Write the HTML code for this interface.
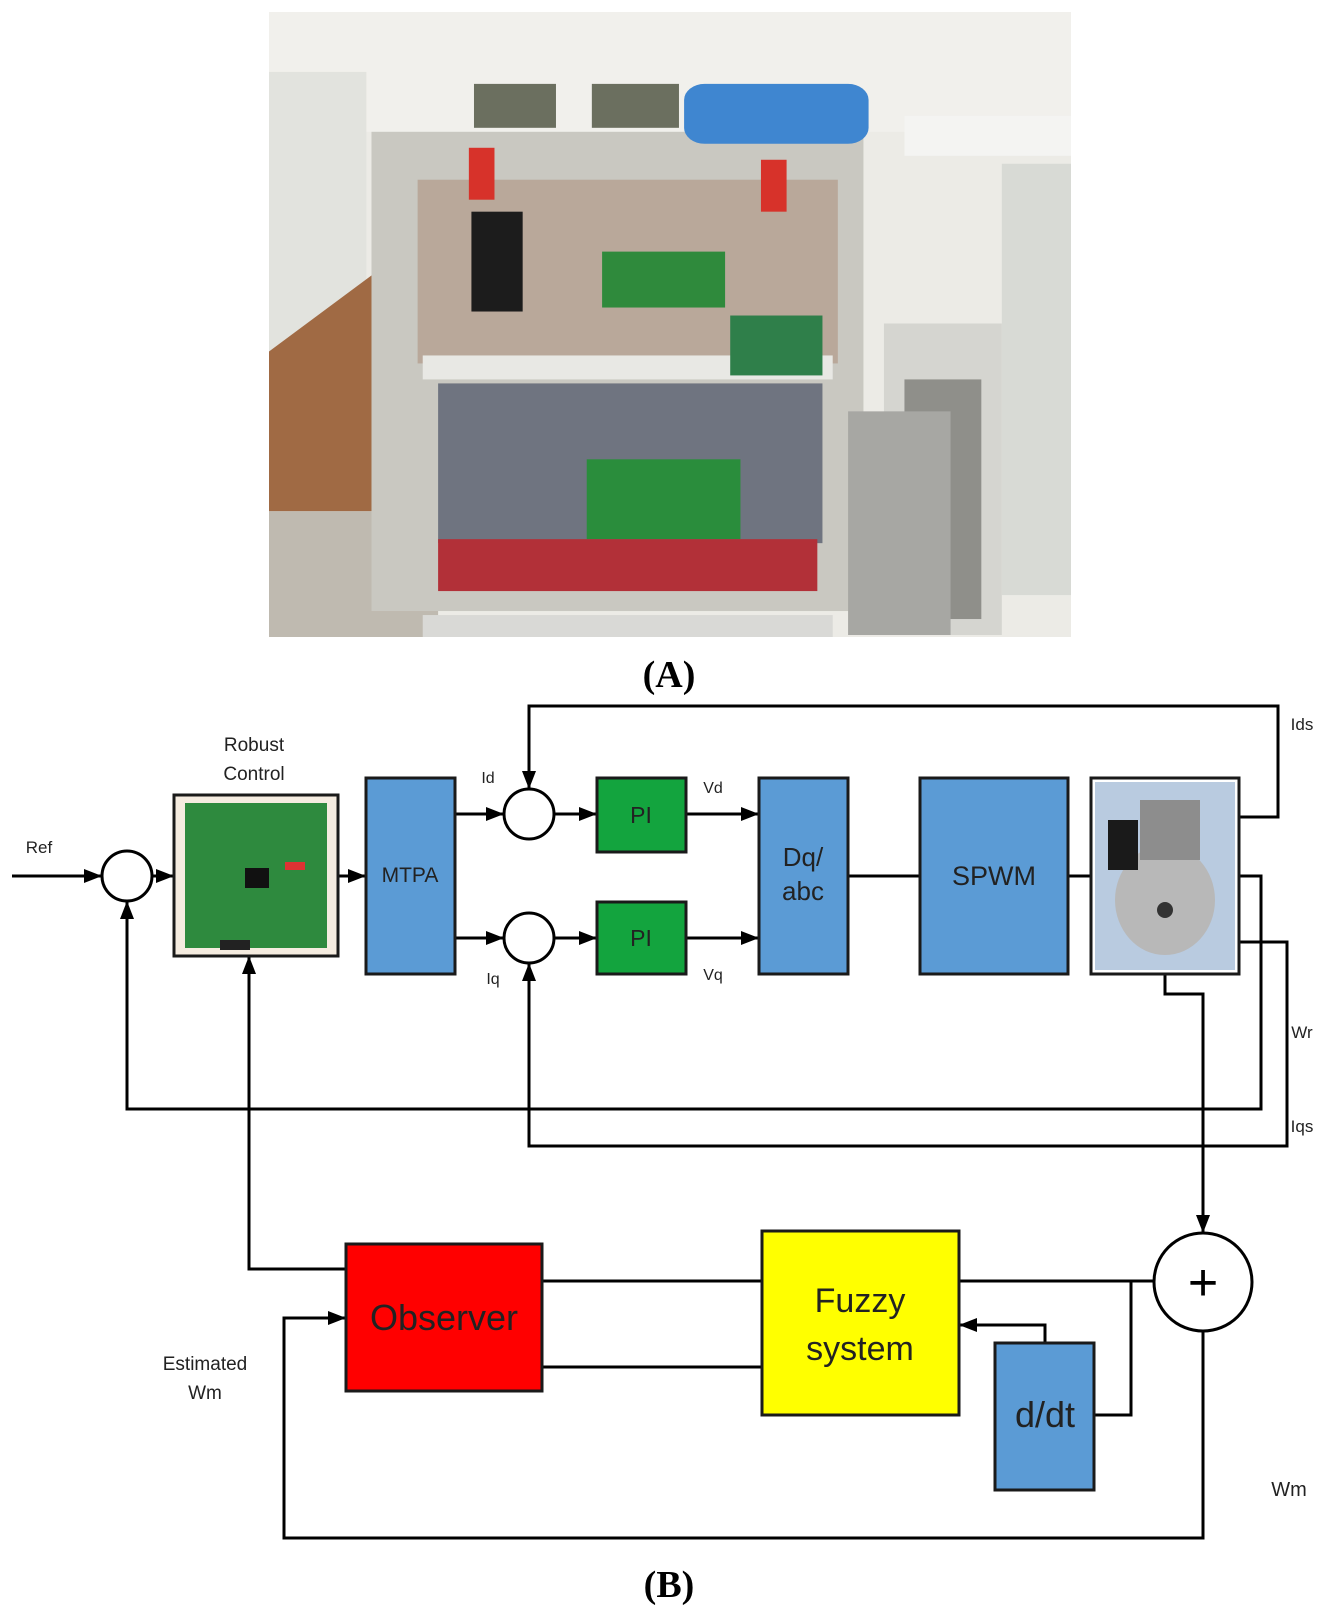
<!DOCTYPE html>
<html><head><meta charset="utf-8"><style>
html,body{margin:0;padding:0;background:#fff}
svg{display:block}
text{font-family:"Liberation Sans",sans-serif}
</style></head><body>
<svg width="1322" height="1618" viewBox="0 0 1322 1618" xmlns="http://www.w3.org/2000/svg">
<defs>
<marker id="ar" markerWidth="18" markerHeight="14" refX="17" refY="7" orient="auto" markerUnits="userSpaceOnUse">
<path d="M0,0 L18,7 L0,14 z" fill="#000"/></marker>
</defs>
<!-- Photo A -->
<svg x="269" y="12" width="802" height="625" viewBox="0 0 1565 1565" preserveAspectRatio="none">
<rect width="1565" height="1565" fill="#ecebe6"/>
<rect x="0" y="0" width="1565" height="300" fill="#f1f0ec"/>
<rect x="0" y="150" width="190" height="700" fill="#e2e3de"/>
<path d="M0,850 L210,650 L230,1250 L0,1250 z" fill="#a06a44"/>
<path d="M0,1250 L330,1250 L330,1565 L0,1565 z" fill="#bfbab0"/>
<rect x="1240" y="260" width="325" height="100" fill="#f4f4f2"/>
<rect x="1430" y="380" width="135" height="1080" fill="#d8dad5"/>
<rect x="1200" y="780" width="230" height="780" fill="#d5d5d0"/>
<rect x="1240" y="920" width="150" height="600" fill="#8f8f8a"/>
<rect x="200" y="300" width="960" height="1200" fill="#c9c8c1"/>
<rect x="290" y="420" width="820" height="460" fill="#b9a89a"/>
<rect x="395" y="500" width="100" height="250" fill="#1c1c1c"/>
<rect x="650" y="600" width="240" height="140" fill="#2f8a3c"/>
<rect x="300" y="860" width="800" height="60" fill="#e8e8e4"/>
<rect x="330" y="930" width="750" height="400" fill="#6f7480"/>
<rect x="620" y="1120" width="300" height="200" fill="#2a8d3c"/>
<rect x="900" y="760" width="180" height="150" fill="#2f7f4a"/>
<rect x="330" y="1320" width="740" height="130" fill="#b23038"/>
<rect x="810" y="180" width="360" height="150" rx="40" fill="#3f86d0"/>
<rect x="400" y="180" width="160" height="110" fill="#6b6f5f"/>
<rect x="630" y="180" width="170" height="110" fill="#6b6f5f"/>
<rect x="390" y="340" width="50" height="130" fill="#d7322a"/>
<rect x="960" y="370" width="50" height="130" fill="#d7322a"/>
<rect x="1130" y="1000" width="200" height="560" fill="#a7a7a3"/>
<rect x="300" y="1510" width="800" height="55" fill="#d9d9d6"/>
</svg>
<text x="669" y="687" font-weight="bold" font-size="38" text-anchor="middle" style="font-family:'Liberation Serif',serif">(A)</text>

<g stroke="#000" stroke-width="3" fill="none">
<line x1="12" y1="876" x2="101" y2="876" marker-end="url(#ar)"/>
<line x1="152" y1="876" x2="173" y2="876" marker-end="url(#ar)"/>
<line x1="338" y1="876" x2="365" y2="876" marker-end="url(#ar)"/>
<line x1="455" y1="814" x2="503" y2="814" marker-end="url(#ar)"/>
<line x1="455" y1="938" x2="503" y2="938" marker-end="url(#ar)"/>
<line x1="554" y1="814" x2="596" y2="814" marker-end="url(#ar)"/>
<line x1="554" y1="938" x2="596" y2="938" marker-end="url(#ar)"/>
<line x1="686" y1="814" x2="758" y2="814" marker-end="url(#ar)"/>
<line x1="686" y1="938" x2="758" y2="938" marker-end="url(#ar)"/>
<line x1="848" y1="876" x2="920" y2="876"/>
<line x1="1068" y1="876" x2="1091" y2="876"/>
<polyline points="1239,817 1278,817 1278,706 529,706 529,788" marker-end="url(#ar)"/>
<polyline points="1239,876 1261,876 1261,1109 127,1109 127,902" marker-end="url(#ar)"/>
<polyline points="1239,942 1287,942 1287,1146 529,1146 529,964" marker-end="url(#ar)"/>
<polyline points="1165,974 1165,994 1203,994 1203,1232" marker-end="url(#ar)"/>
<polyline points="346,1269 249,1269 249,957" marker-end="url(#ar)"/>
<line x1="542" y1="1281" x2="762" y2="1281"/>
<line x1="542" y1="1367" x2="762" y2="1367"/>
<line x1="959" y1="1281" x2="1154" y2="1281"/>
<polyline points="1131,1281 1131,1415 1094,1415"/>
<polyline points="1045,1343 1045,1325 960,1325" marker-end="url(#ar)"/>
<polyline points="1203,1331 1203,1538 284,1538 284,1318 345,1318" marker-end="url(#ar)"/>
</g>
<g stroke="#000" stroke-width="3" fill="#fff">
<circle cx="127" cy="876" r="25"/>
<circle cx="529" cy="814" r="25"/>
<circle cx="529" cy="938" r="25"/>
<circle cx="1203" cy="1282" r="49"/>
</g>
<text x="1203" y="1300" font-size="52" text-anchor="middle">+</text>
<g stroke="#1a1a1a" stroke-width="3">
<rect x="174" y="795" width="164" height="161" fill="#f5ece0"/>
<rect x="366" y="778" width="89" height="196" fill="#5b9bd5"/>
<rect x="597" y="778" width="89" height="74" fill="#13a43e"/>
<rect x="597" y="902" width="89" height="72" fill="#13a43e"/>
<rect x="759" y="778" width="89" height="196" fill="#5b9bd5"/>
<rect x="920" y="778" width="148" height="196" fill="#5b9bd5"/>
<rect x="1091" y="778" width="148" height="196" fill="#fff"/>
<rect x="346" y="1244" width="196" height="147" fill="#ff0000"/>
<rect x="762" y="1231" width="197" height="184" fill="#ffff00"/>
<rect x="995" y="1343" width="99" height="147" fill="#5b9bd5"/>
</g>
<rect x="185" y="803" width="142" height="145" fill="#2e8a3e"/>
<rect x="245" y="868" width="24" height="20" fill="#111"/>
<rect x="285" y="862" width="20" height="8" fill="#d33"/>
<rect x="220" y="940" width="30" height="10" fill="#222"/>
<rect x="1095" y="782" width="140" height="188" fill="#b9cbe0"/>
<ellipse cx="1165" cy="900" rx="50" ry="55" fill="#b8b8b8"/>
<rect x="1140" y="800" width="60" height="60" fill="#8d8d8d"/>
<rect x="1108" y="820" width="30" height="50" fill="#1a1a1a"/>
<circle cx="1165" cy="910" r="8" fill="#333"/>
<g font-size="19" fill="#222" text-anchor="middle">
<text x="254" y="751">Robust</text>
<text x="254" y="780">Control</text>
<text x="39" y="853" font-size="17">Ref</text>
<text x="410" y="882" font-size="21">MTPA</text>
<text x="641" y="823" font-size="23">PI</text>
<text x="641" y="946" font-size="23">PI</text>
<text x="803" y="866" font-size="26">Dq/</text>
<text x="803" y="900" font-size="26">abc</text>
<text x="994" y="885" font-size="27">SPWM</text>
<text x="488" y="783" font-size="16">Id</text>
<text x="493" y="984" font-size="16">Iq</text>
<text x="713" y="793" font-size="16">Vd</text>
<text x="713" y="980" font-size="16">Vq</text>
<text x="1302" y="730" font-size="17">Ids</text>
<text x="1302" y="1038" font-size="17">Wr</text>
<text x="1302" y="1132" font-size="17">Iqs</text>
<text x="1289" y="1496" font-size="20">Wm</text>
<text x="205" y="1370">Estimated</text>
<text x="205" y="1399">Wm</text>
<text x="444" y="1330" font-size="36">Observer</text>
<text x="860" y="1312" font-size="34">Fuzzy</text>
<text x="860" y="1360" font-size="34">system</text>
<text x="1045" y="1427" font-size="36">d/dt</text>
</g>
<text x="669" y="1597" font-weight="bold" font-size="38" text-anchor="middle" style="font-family:'Liberation Serif',serif">(B)</text>
</svg>
</body></html>
